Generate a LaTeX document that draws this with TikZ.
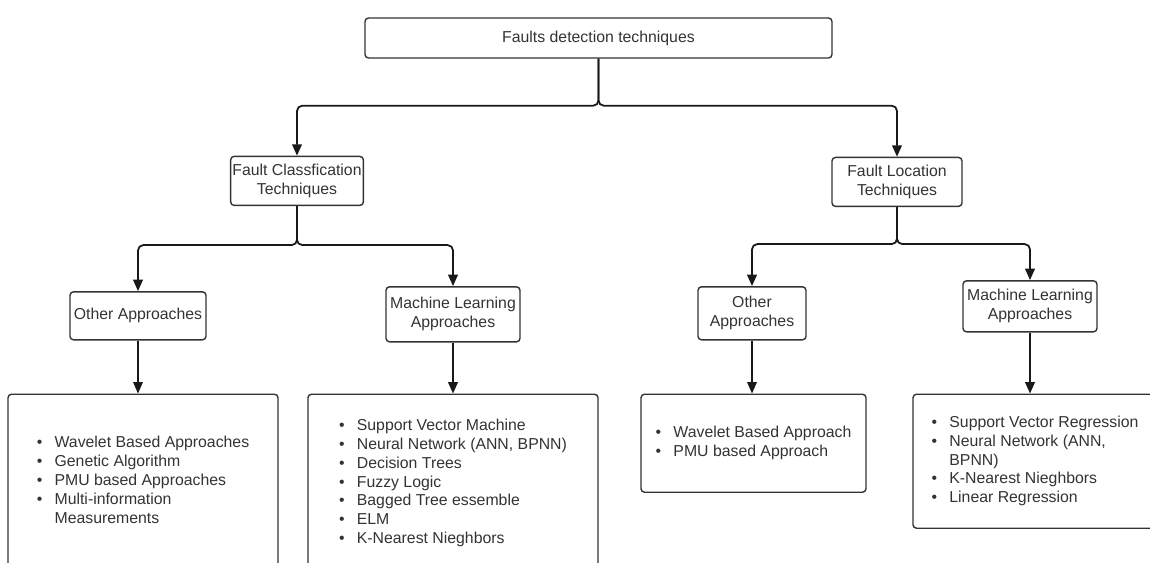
\documentclass[tikz,border=0pt]{standalone}
\usepackage{fontspec}
\setmainfont{Liberation Sans}
\usetikzlibrary{arrows.meta, positioning}

\newcommand{\itemlist}[1]{\begin{tabular}{@{}l@{\hspace{7pt}}l@{}}#1\end{tabular}}

\begin{document}
\begin{tikzpicture}[
    techbox/.style={rectangle, draw=black!80, line width=0.8pt, rounded corners=2pt, align=center, inner sep=1pt, text=black!80, font=\fontsize{9}{10.8}\selectfont},
    listbox/.style={techbox, inner sep=0pt},
    branch/.style={-{Triangle[length=6.5pt, width=5.5pt]}, line width=1pt, rounded corners=3pt, draw=black!90},
    drop/.style={branch, line width=0.6pt},
]
    \clip (0,0) rectangle (23,-11.26);

    % Root
    \node[techbox, minimum width=9.34cm, minimum height=0.8cm] (faults) at (11.97,-0.76) {Faults detection techniques};

    % Classification and location
    \node[techbox, minimum width=2.6cm, minimum height=0.98cm, below=1.94cm of faults, xshift=-6.03cm] (classif) {Fault Classfication\\Techniques};
    \node[techbox, minimum width=2.6cm, minimum height=0.98cm, below=1.96cm of faults, xshift=5.97cm] (location) {Fault Location\\Techniques};

    % Approaches
    \node[techbox, minimum width=2.72cm, minimum height=0.96cm, below=1.7cm of classif, xshift=-3.18cm] (otherC) {Other Approaches};
    \node[techbox, minimum width=2.68cm, minimum height=1.1cm, below=1.6cm of classif, xshift=3.12cm] (mlC) {Machine Learning\\Approaches};
    \node[techbox, minimum width=2.16cm, minimum height=1.06cm, below=1.58cm of location, xshift=-2.9cm] (otherL) {Other\\Approaches};
    \node[techbox, minimum width=2.68cm, minimum height=1.02cm, below=1.46cm of location, xshift=2.66cm] (mlL) {Machine Learning\\Approaches};

    % Lists
    \node[listbox, minimum width=5.4cm, minimum height=3.5cm, below=1.06cm of otherC, xshift=0.1cm] (listA) {\itemlist{
        \textbullet & Wavelet Based Approaches\\
        \textbullet & Genetic Algorithm\\
        \textbullet & PMU based Approaches\\
        \textbullet & Multi-information\\
                    & Measurements}};
    \node[listbox, minimum width=5.8cm, minimum height=3.56cm, below=1.02cm of mlC] (listB) {\itemlist{
        \textbullet & Support Vector Machine\\
        \textbullet & Neural Network (ANN, BPNN)\\
        \textbullet & Decision Trees\\
        \textbullet & Fuzzy Logic\\
        \textbullet & Bagged Tree essemble\\
        \textbullet & ELM\\
        \textbullet & K-Nearest Nieghbors}};
    \node[listbox, minimum width=4.5cm, minimum height=1.96cm, below=1.06cm of otherL, xshift=0.03cm] (listC) {\itemlist{
        \textbullet & Wavelet Based Approach\\
        \textbullet & PMU based Approach}};
    \node[listbox, minimum width=4.88cm, minimum height=2.68cm, below=1.22cm of mlL, xshift=0.1cm] (listD) {\itemlist{
        \textbullet & Support Vector Regression\\
        \textbullet & Neural Network (ANN,\\
                    & BPNN)\\
        \textbullet & K-Nearest Nieghbors\\
        \textbullet & Linear Regression}};

    % Arrows
    \draw[branch] (faults.south) -- ++(0,-0.94) -| (classif.north);
    \draw[branch] (faults.south) -- ++(0,-0.94) -| (location.north);
    \draw[branch] (classif.south) -- ++(0,-0.78) -| (otherC.north);
    \draw[branch] (classif.south) -- ++(0,-0.78) -| (mlC.north);
    \draw[branch] (location.south) -- ++(0,-0.74) -| (otherL.north);
    \draw[branch] (location.south) -- ++(0,-0.74) -| (mlL.north);
    \draw[drop] (otherC.south) -- (otherC.south |- listA.north);
    \draw[branch] (mlC.south) -- (mlC.south |- listB.north);
    \draw[drop] (otherL.south) -- (otherL.south |- listC.north);
    \draw[branch] (mlL.south) -- (mlL.south |- listD.north);
\end{tikzpicture}
\end{document}
